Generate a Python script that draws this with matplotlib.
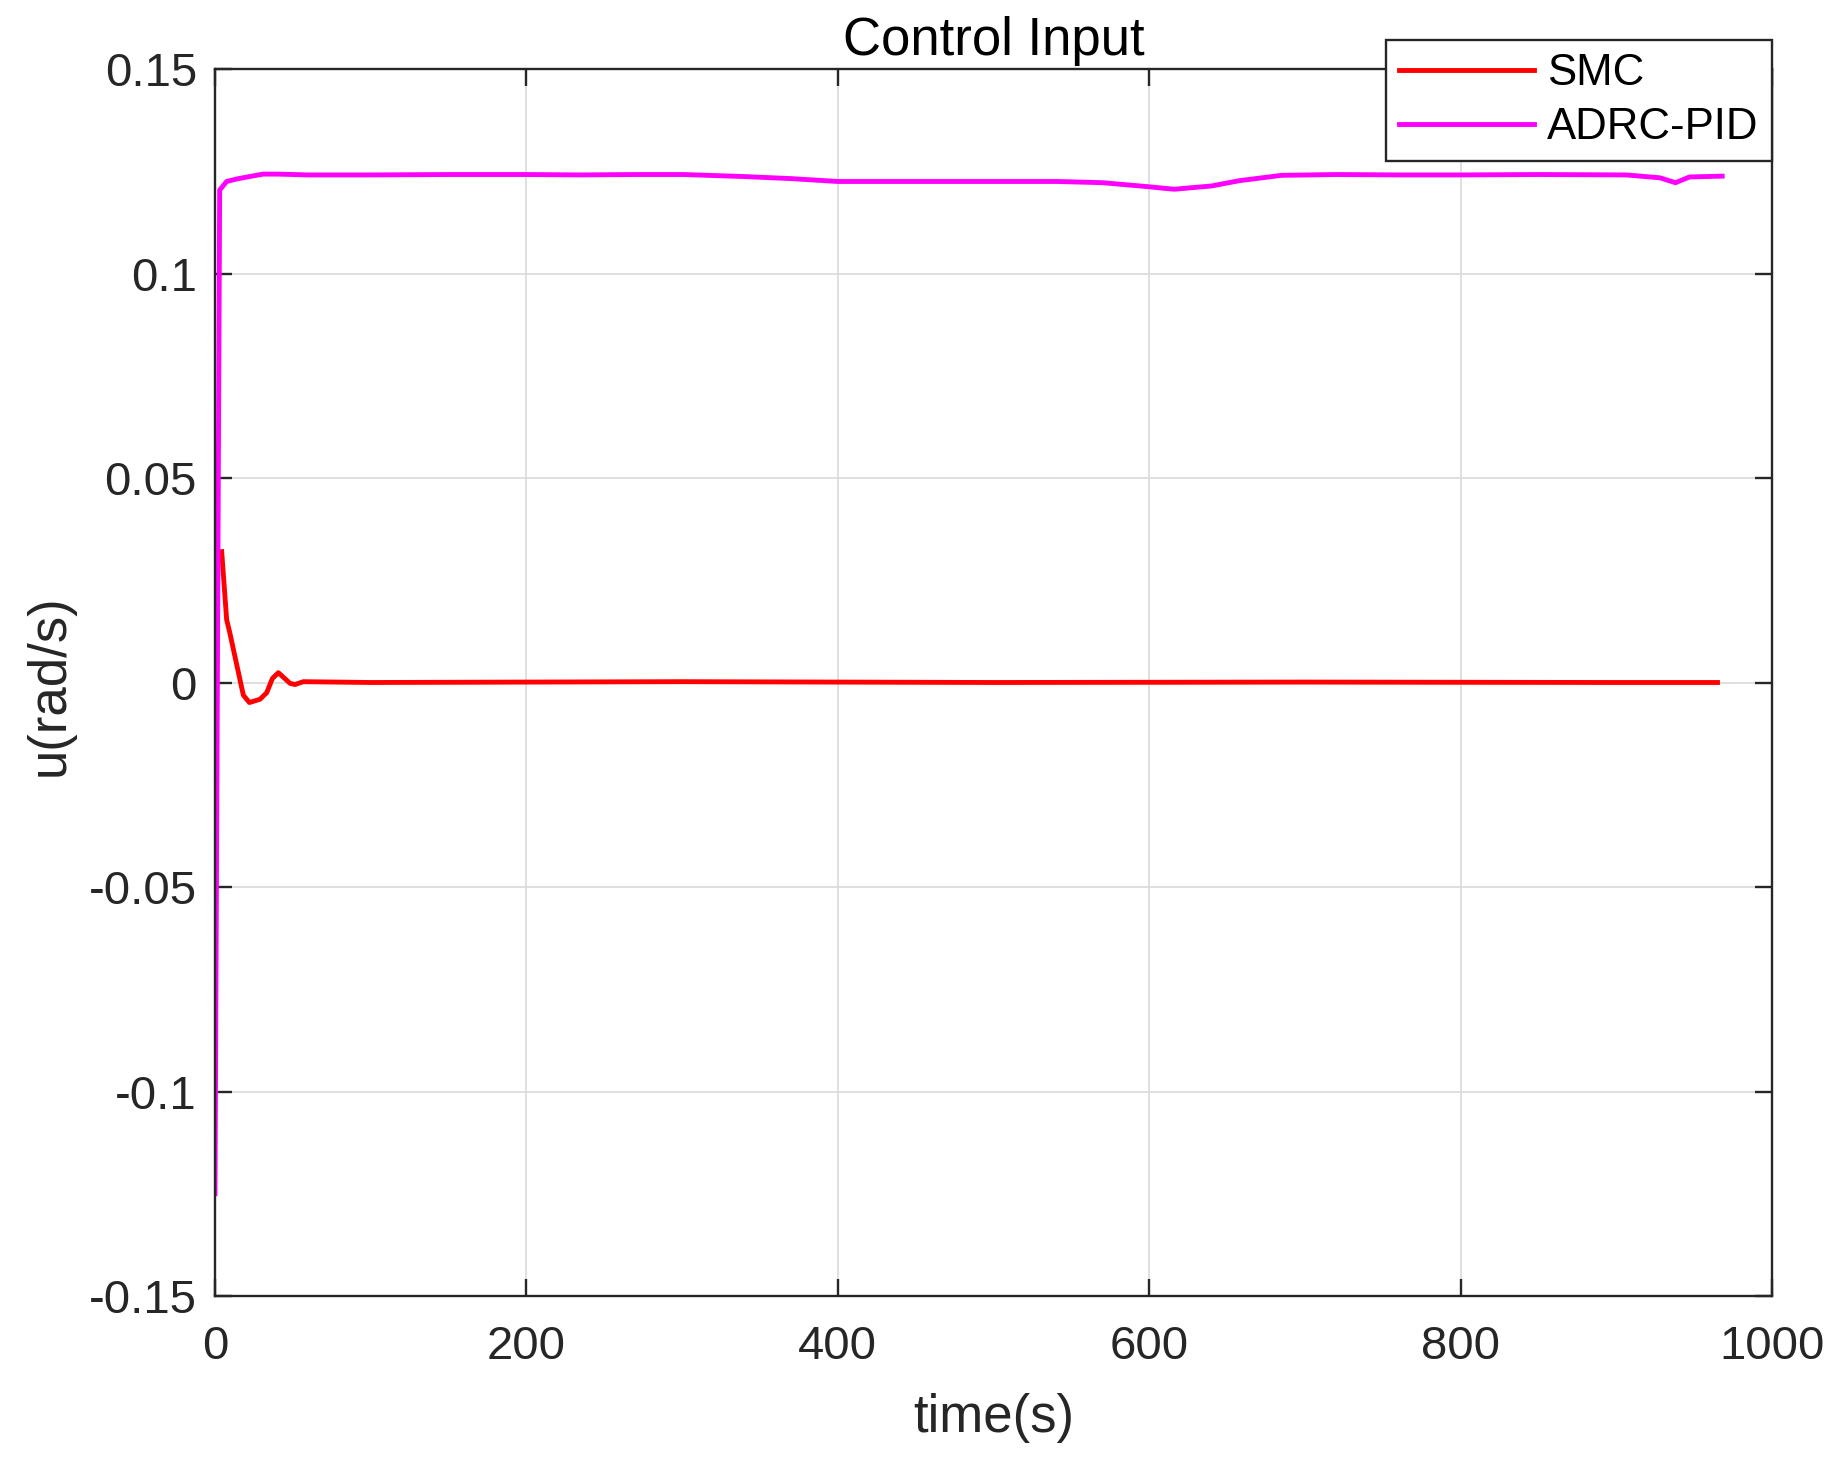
import matplotlib
matplotlib.use("Agg")
import matplotlib.pyplot as plt
from matplotlib.ticker import FixedLocator, FixedFormatter

# ---- data ----
smc_t = [4.3, 7.5, 9.6, 18.2, 22.1, 28.9, 33.2, 36.9, 40.7, 48.2, 51.4, 56.7,
         100, 300, 500, 700, 900, 965]
smc_u = [0.0320, 0.0153, 0.0120, -0.0031, -0.0049, -0.0041, -0.0025, 0.0010,
         0.0024, -0.0002, -0.0005, 0.0002, 0.0, 0.0002, 0.0, 0.0001, 0.0, 0.0]

adrc_t = [0, 3, 7.5, 15, 25, 31, 40, 60, 100, 150, 200, 234, 270, 301, 340,
          370, 400, 450, 500, 541, 570, 600, 616, 640, 658, 685, 720, 760,
          800, 850, 906, 928, 938, 947, 968]
adrc_u = [-0.125, 0.1204, 0.1225, 0.1232, 0.1239, 0.1243, 0.1243, 0.1241,
          0.1241, 0.1242, 0.1242, 0.1241, 0.1242, 0.1242, 0.1237, 0.1232,
          0.1225, 0.1225, 0.1225, 0.1225, 0.1222, 0.1212, 0.1206, 0.1214,
          0.1227, 0.1240, 0.1242, 0.1241, 0.1241, 0.1242, 0.1241, 0.1234,
          0.1222, 0.1236, 0.1238]

series_names = ["SMC", "ADRC-PID"]
x_ticks = [0, 200, 400, 600, 800, 1000]
x_tick_labels = ["0", "200", "400", "600", "800", "1000"]
y_ticks = [-0.15, -0.1, -0.05, 0, 0.05, 0.1, 0.15]
y_tick_labels = ["-0.15", "-0.1", "-0.05", "0", "0.05", "0.1", "0.15"]

# ---- style ----
plt.rcParams['font.family'] = ['Liberation Sans', 'DejaVu Sans']
DARK = '#262626'

fig = plt.figure(figsize=(18.36, 14.61), dpi=100)
ax = fig.add_axes([215/1836, 1 - 1296/1461, 1557/1836, 1227/1461])

ax.plot(smc_t, smc_u, color='#ff0000', lw=3.5, label=series_names[0],
        solid_joinstyle='round')
ax.plot(adrc_t, adrc_u, color='#ff00ff', lw=3.5, label=series_names[1],
        solid_joinstyle='round')

ax.set_xlim(0, 1000)
ax.set_ylim(-0.15, 0.15)
ax.xaxis.set_major_locator(FixedLocator(x_ticks))
ax.xaxis.set_major_formatter(FixedFormatter(x_tick_labels))
ax.yaxis.set_major_locator(FixedLocator(y_ticks))
ax.yaxis.set_major_formatter(FixedFormatter(y_tick_labels))

ax.grid(True, color='#d9d9d9', lw=1.2)
ax.set_axisbelow(True)
for s in ax.spines.values():
    s.set_color(DARK)
    s.set_linewidth(1.7)
ax.tick_params(which='both', direction='in', length=12, width=1.7,
               color=DARK, labelcolor=DARK, labelsize=34,
               top=True, right=True)
ax.tick_params(axis='x', pad=21)
ax.tick_params(axis='y', pad=13)

ax.set_title('Control Input', fontsize=38, color='black', y=1.0114, pad=0)
ax.set_xlabel('time(s)', fontsize=38, color=DARK)
ax.set_ylabel('u(rad/s)', fontsize=38, color=DARK)
ax.xaxis.label.set_va('center')
ax.yaxis.label.set_va('center')
ax.xaxis.set_label_coords(0.5003, (1296 - 1418) / 1227)
ax.yaxis.set_label_coords((50 - 215) / 1557, 0.498)

leg = ax.legend(loc='upper right', bbox_to_anchor=(1.0, 1.0236),
                borderaxespad=0, fontsize=31.5, handlelength=3.1,
                handletextpad=0.3, labelspacing=0.3, borderpad=0.3,
                fancybox=False, framealpha=1, edgecolor=DARK)
leg.get_frame().set_linewidth(1.7)
for txt in leg.get_texts():
    txt.set_color('black')

fig.savefig('out.png', dpi=100, facecolor='white')
